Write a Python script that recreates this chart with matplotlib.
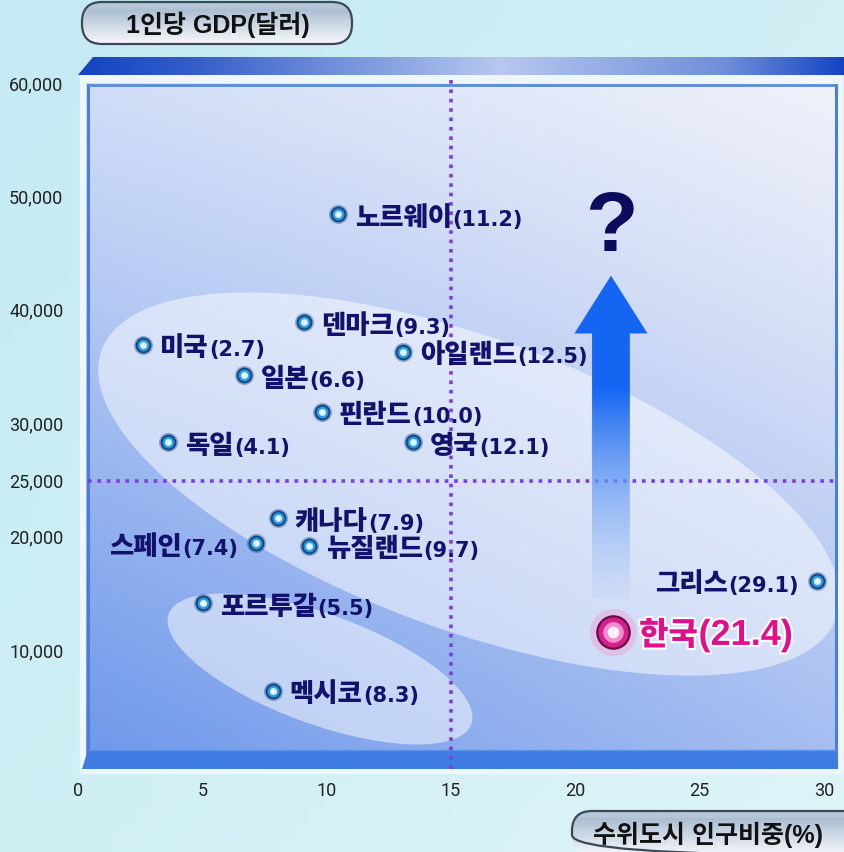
import numpy as np
import matplotlib.pyplot as plt
from matplotlib.patches import Ellipse, Polygon, FancyBboxPatch
from matplotlib.colors import to_rgb
import matplotlib.patheffects as pe

plt.rcParams['font.family'] = ['Liberation Sans', 'Noto Sans CJK KR']

# data: 수위도시 인구비중(%) vs 1인당 GDP(달러)
countries = ['노르웨이', '덴마크', '미국', '아일랜드', '일본', '핀란드', '독일', '영국',
             '캐나다', '스페인', '뉴질랜드', '그리스', '포르투갈', '멕시코']
pct_text = ['11.2', '9.3', '2.7', '12.5', '6.6', '10.0', '4.1', '12.1',
            '7.9', '7.4', '9.7', '29.1', '5.5', '8.3']
urban_share = [10.45, 9.09, 2.61, 13.07, 6.67, 9.81, 3.62, 13.47,
               8.04, 7.16, 9.29, 29.7, 5.03, 7.84]
gdp = [48500, 39000, 37000, 36400, 34300, 31100, 28400, 28400,
       21700, 19500, 19300, 16200, 14200, 6500]
left_labels = ['스페인', '그리스']

korea_name = '한국'
korea_pct = '21.4'
korea_x = 21.5
korea_y = 11700

xticks = [0, 5, 10, 15, 20, 25, 30]
yticks = [10000, 20000, 25000, 30000, 40000, 50000, 60000]
x_ref = 15
y_ref = 25000

W, H = 845, 853
fig = plt.figure(figsize=(W / 100, H / 100), dpi=100)

# background layer in pixel coordinates
bg = fig.add_axes([0, 0, 1, 1])
bg.set_xlim(0, W)
bg.set_ylim(H, 0)
bg.axis('off')


def grad2d(h, w, tl, tr, bl, br):
    u = np.linspace(0, 1, w)[None, :, None]
    v = np.linspace(0, 1, h)[:, None, None]
    tl, tr, bl, br = [np.array(to_rgb(c))[None, None, :] for c in (tl, tr, bl, br)]
    top = tl * (1 - u) + tr * u
    bot = bl * (1 - u) + br * u
    return top * (1 - v) + bot * v


bg.imshow(grad2d(60, 60, '#c4eaf3', '#d2eff6', '#cfeff5', '#def5f8'),
          extent=(0, W, H, 0), aspect='auto', zorder=0)

# panel
bg.add_patch(plt.Rectangle((80, 76), 762, 698, color='#eef6fb', zorder=1))
panel = grad2d(200, 200, '#c6d6f6', '#f0f1f9', '#6e97ea', '#a4bdf1')
v = np.linspace(0, 1, 200)[:, None, None]
panel = panel * (1 - 0.25 * (1 - v) ** 2) + np.array(to_rgb('#f2f4fb')) * 0.25 * (1 - v) ** 2
bg.imshow(panel, extent=(86, 837, 770, 84), aspect='auto', zorder=2)

# top band
band = Polygon([(78, 76), (93, 58), (845, 58), (845, 76)], closed=True,
               transform=bg.transData, facecolor='none', edgecolor='none')
bg.add_patch(band)
bx = np.linspace(0, 1, 300)
bcol = np.interp(bx, [0, 0.15, 0.55, 0.85, 1], [0.0, 0.2, 1.0, 0.55, 0.0])
c0, c1 = np.array(to_rgb('#1443c2')), np.array(to_rgb('#b8c8ee'))
band_img = (c0[None, :] * (1 - bcol[:, None]) + c1[None, :] * bcol[:, None])[None, :, :]
im = bg.imshow(band_img, extent=(78, 845, 76, 58), aspect='auto', zorder=3)
im.set_clip_path(band)

# frame lines
bg.plot([88, 88], [86, 768], color='#4a7fd2', lw=2.2, zorder=6)
bg.plot([836, 836], [86, 768], color='#4a7fd2', lw=2.2, zorder=6)
bg.plot([88, 836], [86, 86], color='#5a8ad6', lw=2, zorder=6)
bg.add_patch(Polygon([(88, 751), (836, 751), (838, 770), (82, 770)], closed=True,
                     facecolor='#3f7ce2', edgecolor='none', zorder=6))
bg.plot([88, 836], [751, 751], color='#5b92ea', lw=1, zorder=6)

# soft white groupings
bg.add_patch(Ellipse((469, 485), 782, 292, angle=20, facecolor='white', alpha=0.5,
                     edgecolor='none', zorder=4))
bg.add_patch(Ellipse((320, 670), 322, 110, angle=20, facecolor='white', alpha=0.5,
                     edgecolor='none', zorder=4))

# axis title pills
for (x0, y0, w, h, tx, txt) in [(82, 3, 270, 42, 218, '1인당 GDP(달러)'),
                                (572, 812, 290, 44, 708, '수위도시 인구비중(%)')]:
    pill = FancyBboxPatch((x0, y0), w, h, boxstyle='round,pad=0,rounding_size=20',
                          transform=bg.transData, facecolor='none',
                          edgecolor='#3c4858', lw=1.6, zorder=8)
    bg.add_patch(pill)
    g = grad2d(50, 10, '#9cb2ca', '#9cb2ca', '#f6f8fb', '#f6f8fb')
    g[:8] = np.array(to_rgb('#b5c6d8'))
    gi = bg.imshow(g, extent=(x0, x0 + w, y0 + h, y0), aspect='auto', zorder=7)
    gi.set_clip_path(pill)
    bg.text(tx, y0 + h / 2 + 1, txt, ha='center', va='center',
            fontsize=18, fontweight='bold', color='#111111', zorder=9)

# data axes
ax = fig.add_axes([88 / W, (H - 770) / H, (836 - 88) / W, (770 - 80) / H])
xlim = ((88 - 78) / 24.87, (836 - 78) / 24.87)
ylim = ((765.4 - 770) / 11.34 * 1000, (765.4 - 80) / 11.34 * 1000)
ax.axis('off')
ax.set_facecolor('none')

ax.axhline(y_ref, color='#7a3fe0', lw=2.6, linestyle=(0, (1, 1.6)), zorder=3)
ax.axvline(x_ref, color='#7a3fe0', lw=2.6, linestyle=(0, (1, 1.6)), zorder=3)

for t in xticks:
    ax.text(t, -0.03, str(t), transform=ax.get_xaxis_transform(), ha='center', va='center',
            fontsize=13, color='#222222', clip_on=False, family='Roboto')
for t in yticks:
    ax.text(-0.033, t, f'{t:,}', transform=ax.get_yaxis_transform(), ha='right', va='center',
            fontsize=13, color='#222222', clip_on=False, family='Roboto')

# arrow with gradient
arrow_x, arrow_y0, arrow_y1 = 21.43, 14600, 43100
shaft_hw, head_hw, head_len = 0.76, 1.47, 5100
arrow = Polygon([(arrow_x - shaft_hw, arrow_y0), (arrow_x - shaft_hw, arrow_y1 - head_len),
                 (arrow_x - head_hw, arrow_y1 - head_len), (arrow_x, arrow_y1),
                 (arrow_x + head_hw, arrow_y1 - head_len), (arrow_x + shaft_hw, arrow_y1 - head_len),
                 (arrow_x + shaft_hw, arrow_y0)], closed=True, transform=ax.transData,
                facecolor='none', edgecolor='none')
ax.add_patch(arrow)
av = np.linspace(0, 1, 200)
a_t = np.clip((av - 0.35) / 0.65, 0, 1)[:, None]
ca, cb = np.array(to_rgb('#1466f2')), np.array(to_rgb('#c8d8f6'))
arr_img = np.zeros((200, 1, 4))
arr_img[:, 0, :3] = ca * (1 - a_t) + cb * a_t
arr_img[:, 0, 3] = 1 - 0.6 * a_t[:, 0]
aim = ax.imshow(arr_img, extent=(arrow_x - head_hw, arrow_x + head_hw, arrow_y0, arrow_y1),
                aspect='auto', zorder=4)
aim.set_clip_path(arrow)
ax.set_xlim(*xlim)
ax.set_ylim(*ylim)
ax.text(arrow_x, 47300, '?', ha='center', va='center', fontsize=62,
        fontweight='bold', color='#0c0c5c', zorder=5)

# country points
ax.scatter(urban_share, gdp, s=190, color='#0a3a78', alpha=0.35, lw=0, zorder=5)
ax.scatter(urban_share, gdp, s=130, color='#0b4686', lw=0, zorder=6)
ax.scatter(urban_share, gdp, s=75, color='#2e94d6', lw=0, zorder=7)
ax.scatter(urban_share, gdp, s=28, color='#b8ecff', lw=0, zorder=8)
ax.scatter(urban_share, gdp, s=8, color='white', lw=0, zorder=9)

name_kw = dict(textcoords='offset points', va='baseline', fontsize=19, fontweight=900,
               color='#12126c', family='Noto Sans CJK JP', zorder=10)
num_kw = dict(textcoords='offset points', va='baseline', fontsize=15, fontweight='bold',
              color='#12126c', family='DejaVu Sans', zorder=10)
for name, p, x, y in zip(countries, pct_text, urban_share, gdp):
    if name in left_labels:
        num = ax.annotate(f'({p})', (x, y), xytext=(-13, -7.5), ha='right', **num_kw)
        ax.annotate(name, (0, y), xycoords=(num, 'data'), xytext=(-0.5, -7.5),
                    ha='right', **name_kw)
    else:
        nm = ax.annotate(name, (x, y), xytext=(12, -7.5), ha='left', **name_kw)
        ax.annotate(f'({p})', (1, y), xycoords=(nm, 'data'), xytext=(0.5, -7.5),
                    ha='left', **num_kw)

# Korea
ax.scatter([korea_x], [korea_y], s=1150, color='#f58ccb', alpha=0.35, lw=0, zorder=6)
ax.scatter([korea_x], [korea_y], s=620, color='#6e0a44', lw=0, zorder=7)
ax.scatter([korea_x], [korea_y], s=470, color='#d4218e', lw=0, zorder=8)
ax.scatter([korea_x], [korea_y], s=220, color='#f68ccc', lw=0, zorder=9)
ax.scatter([korea_x], [korea_y], s=70, color='#fff2fa', lw=0, zorder=10)
kor_fx = [pe.withStroke(linewidth=3, foreground='white')]
kn = ax.annotate(korea_name, (korea_x, korea_y), xytext=(19, -9.5), textcoords='offset points',
                 ha='left', va='baseline', fontsize=23, fontweight=900, color='#e0108c',
                 family='Noto Sans CJK JP', zorder=11, path_effects=kor_fx)
ax.annotate(f'({korea_pct})', (1, korea_y), xycoords=(kn, 'data'), xytext=(0.5, -9.5),
            textcoords='offset points', ha='left', va='baseline', fontsize=26,
            fontweight='bold', color='#e0108c', family='Liberation Sans', zorder=11,
            path_effects=kor_fx)

fig.savefig('out.png', dpi=100)
